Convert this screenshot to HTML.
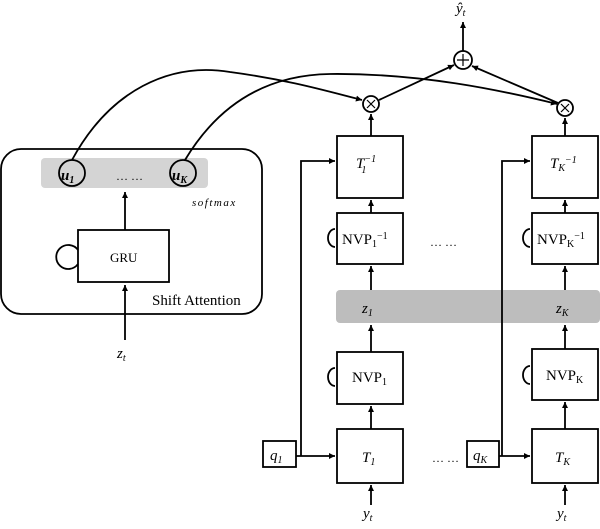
<!DOCTYPE html>
<html><head><meta charset="utf-8"><style>
body{margin:0;background:#fff}
svg text{font-family:"Liberation Serif",serif;fill:#000}
</style></head><body>
<svg width="600" height="524" viewBox="0 0 600 524" xmlns="http://www.w3.org/2000/svg">
<defs><marker id="a" markerWidth="8" markerHeight="8" refX="6" refY="3" orient="auto" markerUnits="userSpaceOnUse"><path d="M0,0 L6,3 L0,6z" fill="#000"/></marker></defs>
<g fill="none" stroke="#000" stroke-width="1.8">
<rect x="1" y="149" width="261" height="165" rx="20"/>
</g>
<rect x="41" y="158" width="167" height="30" rx="4" fill="#d4d4d4"/>
<rect x="336" y="290" width="264" height="33" rx="4" fill="#bdbdbd"/>
<g fill="none" stroke="#000" stroke-width="1.8">
<circle cx="72" cy="173" r="13"/><circle cx="183" cy="173" r="13"/>
<rect x="78" y="230" width="91" height="52"/>
<path d="M78,250 A12,12 0 1 0 78,264"/>
<path d="M125,230 L125,192" marker-end="url(#a)"/>
<path d="M125,340 L125,285" marker-end="url(#a)"/>
<path d="M72,160 C110,90 170,62 230,72 C290,80 330,92 362,100" marker-end="url(#a)"/>
<path d="M185,160 C215,110 260,75 330,74 C420,73 500,90 557,104" marker-end="url(#a)"/>
<rect x="337" y="136" width="66" height="62"/>
<rect x="337" y="213" width="66" height="51"/>
<rect x="337" y="352" width="66" height="52"/>
<rect x="337" y="429" width="66" height="54"/>
<rect x="532" y="136" width="66" height="62"/>
<rect x="532" y="213" width="66" height="51"/>
<rect x="532" y="349" width="66" height="51"/>
<rect x="532" y="429" width="66" height="54"/>
<rect x="263" y="441" width="33" height="26"/>
<rect x="467" y="441" width="32" height="26"/>
<circle cx="371" cy="104" r="8"/><circle cx="565" cy="108" r="8"/><circle cx="463" cy="60" r="9"/>
<path d="M367,100 l8,8 M375,100 l-8,8 M561,104 l8,8 M569,104 l-8,8 M463,54 v12 M457,60 h12" stroke-width="1.2"/>
<path d="M379,100 L454,65" marker-end="url(#a)"/>
<path d="M558,103 L472,66" marker-end="url(#a)"/>
<path d="M463,51 L463,22" marker-end="url(#a)"/>
<path d="M371,136 L371,114" marker-end="url(#a)"/>
<path d="M565,136 L565,118" marker-end="url(#a)"/>
<path d="M371,213 L371,200" marker-end="url(#a)"/>
<path d="M565,213 L565,200" marker-end="url(#a)"/>
<path d="M371,290 L371,266" marker-end="url(#a)"/>
<path d="M565,290 L565,266" marker-end="url(#a)"/>
<path d="M371,352 L371,325" marker-end="url(#a)"/>
<path d="M565,349 L565,325" marker-end="url(#a)"/>
<path d="M371,429 L371,406" marker-end="url(#a)"/>
<path d="M565,429 L565,402" marker-end="url(#a)"/>
<path d="M371,505 L371,485" marker-end="url(#a)"/>
<path d="M565,505 L565,485" marker-end="url(#a)"/>
<path d="M296,456 L335,456" marker-end="url(#a)"/>
<path d="M499,456 L530,456" marker-end="url(#a)"/>
<path d="M301,456 L301,161 L335,161" marker-end="url(#a)"/>
<path d="M502,456 L502,161 L530,161" marker-end="url(#a)"/>
<path d="M335,229 A7,9 0 1 0 335,247"/>
<path d="M530,229 A7,9 0 1 0 530,247"/>
<path d="M335,368 A7,9 0 1 0 335,386"/>
<path d="M530,366 A7,9 0 1 0 530,384"/>
</g>
<g font-size="15">
<text x="61" y="180" font-weight="bold" font-style="italic">u<tspan font-size="10" dy="3">1</tspan></text>
<text x="172" y="180" font-weight="bold" font-style="italic">u<tspan font-size="10" dy="3">K</tspan></text>
<text x="116" y="180" font-size="12">… …</text>
<text x="192" y="206" font-style="italic" font-size="11" letter-spacing="1.5">softmax</text>
<text x="110" y="262" font-family="Liberation Sans" font-size="13">GRU</text>
<text x="152" y="305" font-size="15">Shift Attention</text>
<text x="117" y="358" font-style="italic">z<tspan font-size="10" dy="3">t</tspan></text>
<text x="456" y="13" font-style="italic">ŷ<tspan font-size="10" dy="3">t</tspan></text>
<text x="356" y="168" font-style="italic">T<tspan font-size="10" dy="-6">−1</tspan><tspan font-size="10" dx="-14" dy="11">1</tspan></text>
<text x="550" y="168" font-style="italic">T<tspan font-size="10" dy="3">K</tspan><tspan font-size="10" dy="-8">−1</tspan></text>
<text x="342" y="244">NVP<tspan font-size="10" dy="3">1</tspan><tspan font-size="10" dy="-8">−1</tspan></text>
<text x="537" y="244">NVP<tspan font-size="10" dy="3">K</tspan><tspan font-size="10" dy="-8">−1</tspan></text>
<text x="430" y="246" font-size="12">… …</text>
<text x="362" y="313" font-style="italic">z<tspan font-size="10" dy="3">1</tspan></text>
<text x="556" y="313" font-style="italic">z<tspan font-size="10" dy="3">K</tspan></text>
<text x="352" y="382">NVP<tspan font-size="10" dy="3">1</tspan></text>
<text x="546" y="380">NVP<tspan font-size="10" dy="3">K</tspan></text>
<text x="362" y="462" font-style="italic">T<tspan font-size="10" dy="3">1</tspan></text>
<text x="555" y="462" font-style="italic">T<tspan font-size="10" dy="3">K</tspan></text>
<text x="270" y="460" font-style="italic">q<tspan font-size="10" dy="3">1</tspan></text>
<text x="473" y="460" font-style="italic">q<tspan font-size="10" dy="3">K</tspan></text>
<text x="432" y="462" font-size="12">… …</text>
<text x="363" y="518" font-style="italic">y<tspan font-size="10" dy="3">t</tspan></text>
<text x="557" y="518" font-style="italic">y<tspan font-size="10" dy="3">t</tspan></text>
</g>
</svg>
</body></html>
